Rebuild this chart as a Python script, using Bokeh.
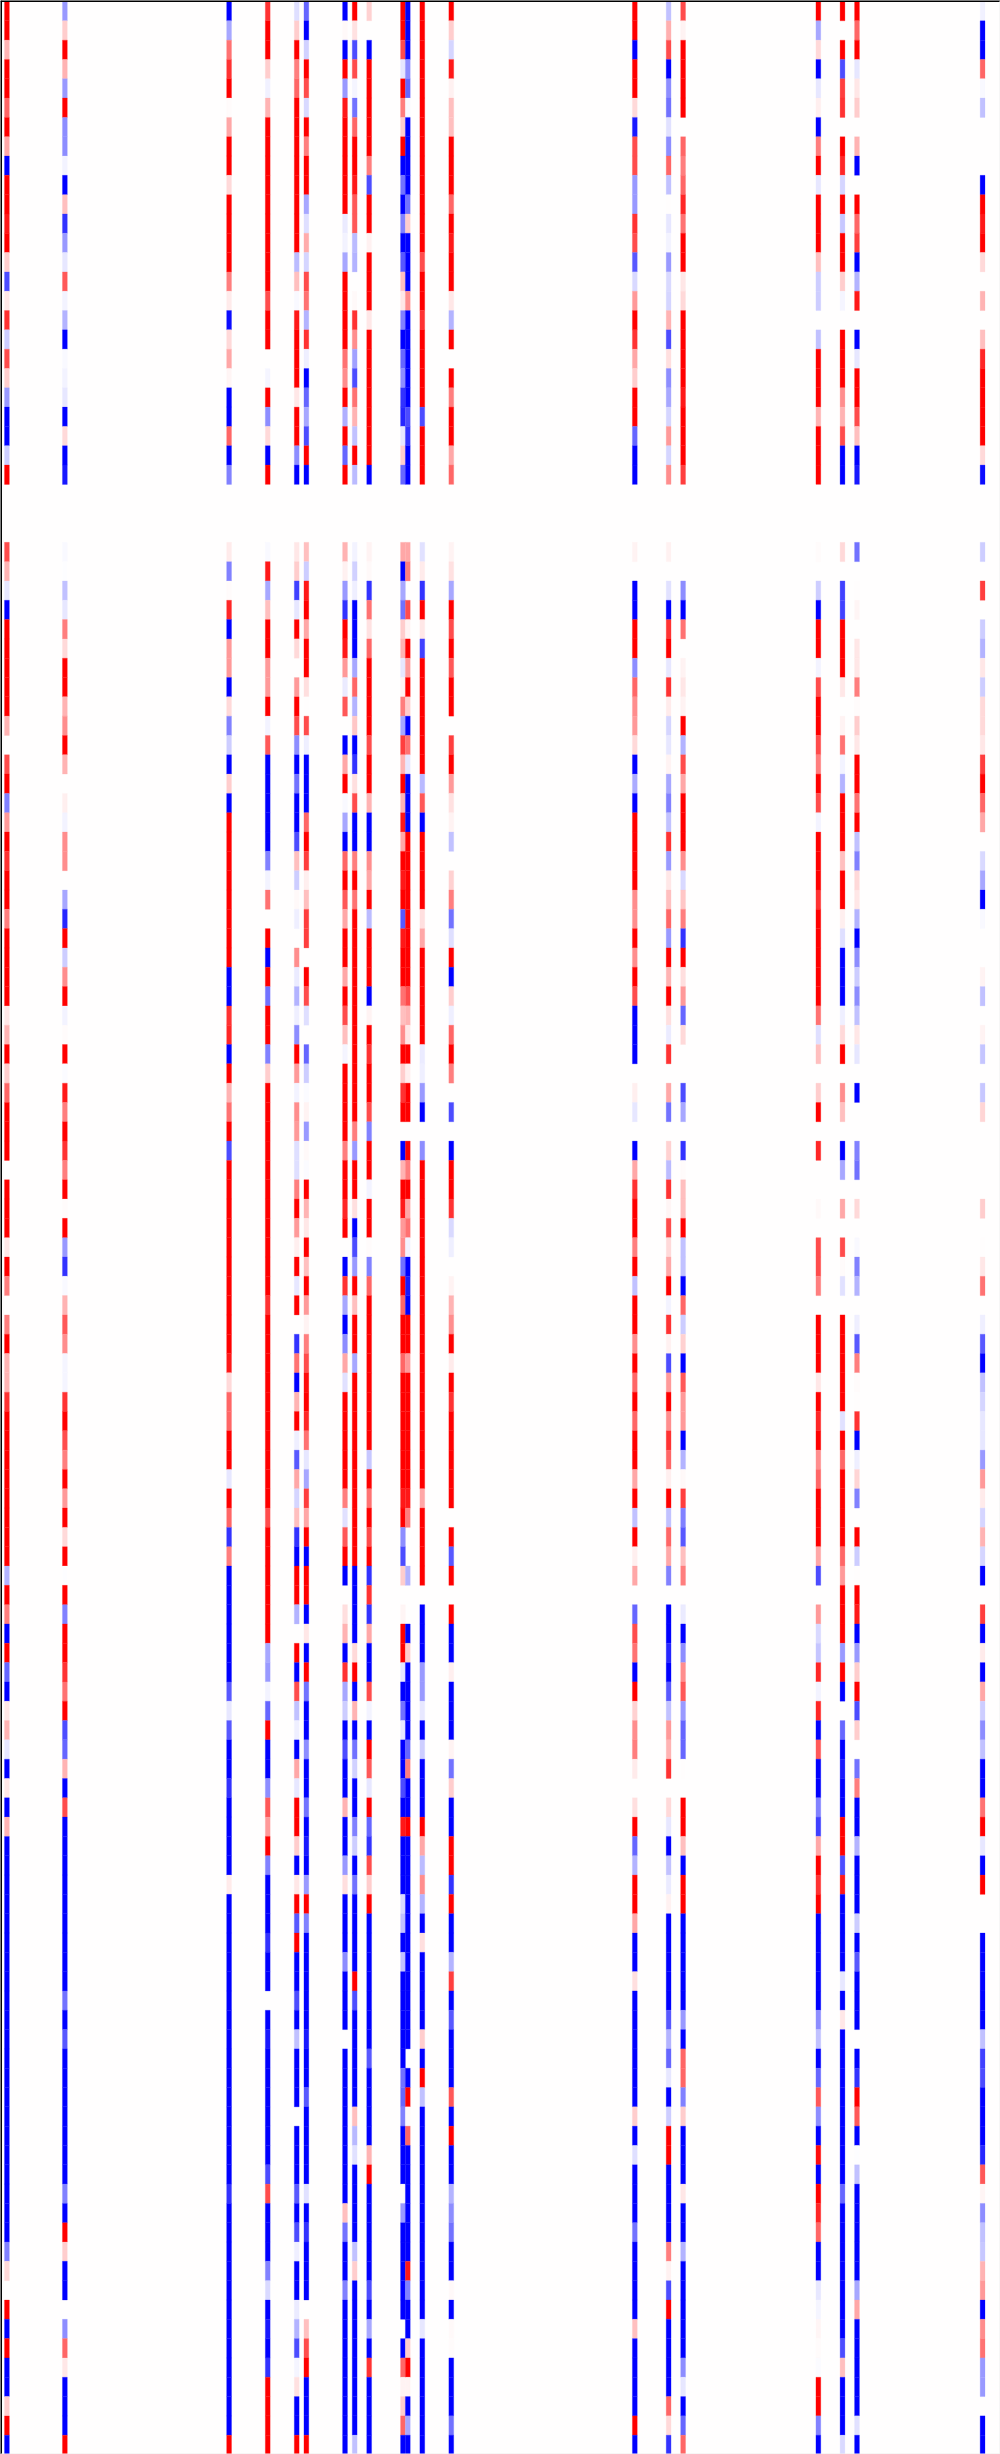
from bokeh.embed import file_html
from bokeh.resources import INLINE
from bokeh.models import ColumnDataSource, LinearColorMapper, Range1d, Span
from bokeh.plotting import figure

# Sample positions (column index on the x axis); values in tenths, + red, - blue
COLUMN_INDEX = [0, 12, 46, 54, 60, 62, 70, 72, 75, 82, 83, 86, 92, 130, 137, 140, 168, 173, 176, 202]

c00 = [10,10,3,10,10,6,10,3.5,-10,10,10,9,10,2,-7,1,
 8,-2,7,2,-4,-10,-10,-2,10, 0,0,0,
 7,3,-1,-10,10,10,10,10,10,3,0,7,10,-5,
 4,10,8,10,10,5,10,10,10,10,1,3,10,2,
 6,10,10,10,0,10,10,10,1,10,5,0,5,10,
 3,3,8,10,10,10,10,10,10,10,10,-3,10,5,
 -10,10,-6,-10,1,3,-1,-10,1,-10,3,-10,-10,-10,
 -10,-10,-10,-10,-10,-10,-10,-10,-10,-10,-10,-10,-10,-10,
 -10,-10,-10,-10,-5,1.5,0,10,-10,10,-10,-10,2,10,-10]
c01 = [-4,2,10,3,-4,10,-4.5,-4.5,-.5,-10,2.5,-8,-4,-1,6.5,-.5,
 -3,-10,-.3,-.5,-1,-10,1.5,-10,-9, 0,0,0,
 -.3,-.1,-2.5,-1,5,1.5,10,10,3,4.5,10,3,0,.7,
 -.5,4.5,4.5,0,-3.5,-8.5,10,-2,4.5,10,-.5,.2,10,-.2,
 9,5,10,8,5,10,.2,10,-4,-8,-.3,3,6.5,4.5,
 -.4,-.4,8,10,7,5,10,4,10,1.5,10,-.1,10,-5,
 10,10,8,5.5,10,-7,-6,3,-10,7,-10,-10,-10,-10,
 -10,-10,-10,-10,-10,-5.5,-10,-6.5,-10,-10,-10,-10,-10,-10,
 -10,-5,-10,10,2,-10,-10,0,-4.5,6,1,-10,-10,-10,10]
c02 = [-10,-3.5,5.5,8,10,.2,3.5,10,10,1.5,10,10,10,10,5,.8,
 -9.5,1.5,3.5,.4,-10,-10,6,-10,-5, 0,0,0,
 .8,-5,.2,8.5,-10,4,4,-10,1.5,-5,-2,-10,2,-10,
 10,10,10,10,10,10,10,10,-10,-10,8,8.5,-10,10,
 3,5.5,10,-7,10,10,10,10,10,10,10,10,10,10,
 9,1.5,6,6,10,10,-1,10,6,-8,5,-10,-10,-10,
 -10,-10,-10,-6.5,-1,-6.5,-10,-10,-8,-10,-10,-10,-10,.8,
 -10,-10,-10,-10,-10,-10,-10,-10,-10,-10,-10,-10,-10,-10,
 -10,-8,-10,-10,-10,-10,-10,-10,-10,-10,-10,-10,-10,-10,10]
c03 = [8,10,10,2,-.6,3,10,10,10,10,10,10,10,10,10,7,
 10,10,0,-.4,10,-4.5,1.5,-10,10, 0,0,0,
 -.3,9,-3.5,2.5,10,10,4,4,10,-.5,6.5,-10,-10,-10,
 -10,-10,-5,-.5,5.5,0,10,-10,10,-5.5,10,10,-5,2,
 10,10,10,10,10,10,10,10,10,10,10,8,10,10,
 10,10,10,10,10,10,10,10,7,10,10,10,10,10,
 10,-3.5,-4,-.5,-6,10,-10,-10,-4.5,6.5,4,10,-5,-10,
 -10,-10,-8,-10,-10,0,-10,-9,-10,-10,-10,-10,-10,-10,
 -7,7,-10,-10,-10,-5,-1.5,-10,-9,-10,-8,10,10,10,10]
c04 = [-1.3,2,10,5,6,10,10,10,10,10,10,10,10,-2.7,2.5,-.3,
 9,10,10,10,1,10,10,-4.5,-10, 0,0,0,
 1,2,-7.5,-1,10,1.5,0,4,10,7,-4.5,-10,-5.5,-10,
 -10,-7,2.5,-2,.3,-.7,0,4.5,-.8,-3,-.7,-4.5,10,4,
 -.5,4.5,4,-1.3,-1.3,5,10,4,.7,10,-1,10,0,-8,
 5.5,-10,3,10,-.7,-6.5,3.5,-1.7,2.5,-8,-10,10,10,-3,
 0,10,-10,7,-2.5,-.7,-10,3.5,-1,10,10,2,-10,1,
 10,-6.5,10,-10,-10,-7,-10,-2.5,-10,-10,-10,0,-10,-10,
 -10,-6.5,-10,-7,-.7,-10,-10,-.8,-3,-7,-.4,1.2,-10,-10,10]
c05 = [-6,-10,-1.8,10,7,-1.5,10,5,10,10,-3.5,-1.3,3.3,-1.7,7,5.5,
 -3,8,-.7,-10,-6,-3.5,-7,10,-10, 0,0,0,
 2.5,-2,9,10,3.5,10,10,1.3,.1,7,-.7,-10,-10,-10,
 6,10,7.5,.7,2.5,7.5,7.5,0,10,7,-1.3,0,-6,-2,
 -.2,.5,-4,.3,-.2,10,3,1,10,2.5,10,4,.5,5,
 7,9.5,10,8.5,5.5,-1,-3.5,7.5,3.5,10,-10,10,10,-10,
 1,-10,10,-5.5,-10,-10,-4.5,-10,-10,-5.5,-10,-9,-10,-4,
 10,-5,-10,-10,-10,-10,-10,-9,-10,-10,-6.5,-10,-10,-10,
 -10,-1.2,-10,-8,-10,-10,-10,0,2.5,7,10,-10,-10,-10,10]
c06 = [-10,.3,-10,10,-4,9,10,10,10,10,10,-.8,-.5,-3.5,10,10,
 10,10,5.5,4.5,10,-3.2,10,-6,10, 0,0,0,
 3,.6,-4,-8,10,9,4,-.8,6.5,0,-10,3.5,10,-.3,
 -3.5,-10,6,10,6.5,3.5,10,10,3.5,10,7,2.5,-.4,10,
 10,10,10,5,10,10,8.5,10,0,-10,8,-3.5,-10,-4.5,
 3.5,-1.2,10,10,10,10,10,5,-1.2,6.5,10,-10,0,1.3,
 3,-10,8,-3.5,-2,-10,-7,-10,-10,3,-10,-10,-4,1.3,
 -10,-10,-10,-4.5,-10,-10,-10,0,-10,-10,-10,-10,-10,-10,
 -10,-10,2.5,-5.5,-10,-10,-5,-10,-10,-10,-10,-10,-10,-10,-10]
c07 = [10,1.2,-7,7,-.4,-5.5,6,10,10,9,6.5,6.5,-2.7,-3,0,.3,
 8,4.5,-3.7,-7,5.5,3,-2.5,10,-2.7, 0,0,0,
 -.5,-1.8,-.7,-10,-10,-10,-3.5,6,-3,2.2,-10,-8,1.3,7,
 -10,-10,5,10,5.5,10,10,10,10,10,10,10,10,10,
 10,10,5,-4,10,10,1.3,-10,-7,-4,10,2.5,10,10,
 -3.5,10,10,10,10,10,10,10,10,10,10,-10,-10,-10,
 -10,1.5,10,-10,3,-10,-5.5,-1.8,-10,-10,-5,-2,-10,-5.5,
 -10,-10,-10,-10,10,-7,-10,-10,-10,-10,-10,2.5,-2.8,-1.2,
 -10,-10,-10,-10,-2.5,2,-10,-10,-10,-10,-10,-10,-10,-10,-2.5]
c08 = [1.8,0,-10,10,10,10,10,10,5,-7,10,10,.6,10,10,10,
 1,10,10,10,10,10,10,10,-10, 0,0,0,
 .5,.3,-8,5.5,1.2,6,10,10,10,10,7,10,10,3,
 -10,-10,4.5,3.5,10,-2.7,10,10,10,-10,.5,10,8,10,
 10,7,-5,10,10,-.5,10,10,.2,-5,6,10,10,10,
 10,10,10,10,10,-2.2,10,5.5,10,7,10,-8,8,-8,
 3.5,-10,-10,7,-.5,-10,10,6.5,-1,10,-6,-8,7,2,
 10,-10,-10,-10,-10,-10,-10,-10,-6.5,-10,-10,-10,-10,3,
 10,-10,-10,-10,-10,-10,-7,-10,-3.5,-10,8,-10,-10,-10,-10]
c09 = [10,10,7,-1,10,5,2,10,-10,-5.5,-10,-5,-10,-6.5,2.5,1,
 -5,-10,-6,-4.5,-8,-8.5,-1,2,-6, 0,0,0,
 3.5,-10,-3.5,-5.5,2,3,-1,.5,5,-3.5,7.5,3,10,3,
 9,3.5,10,9,10,-6.5,9,10,10,5.5,2.5,4.5,10,2,
 8,10,0,-10,3,10,9,4,4.5,-5.5,10,6,10,10,
 6,10,10,10,10,10,10,9,10,-4.5,-7,2,0,.4,
 10,10,-1,-10,-5.5,-1,-10,-10,-7,-10,9,-10,-10,-10,
 -1.5,-2.5,-10,-2.5,-10,-10,-10,-10,-10,-5.5,-6,-5,-10,-10,
 -10,.2,-4,-10,-10,-10,-10,-10,0,-10,6,.5,2,6,-10]
c10 = [-10,-10,-10,-4.5,-6,-.3,-10,-10,-10,-10,-5.5,2,-10,-10,-10,4.5,
 -10,-10,-10,-10,-10,-7,-8,-10,-10, 0,0,0,
 3.5,5,0,7,.5,10,4,10,2,-10,5.5,-1,-10,-10,
 -10,10,10,10,10,10,10,10,10,7,3,1,10,.7,
 10,10,0,10,5,10,3.5,5.5,-.5,-10,-9,-10,10,10,
 4,10,10,10,10,10,10,9,5,0,0,-3,0,0,
 -10,2,-10,-10,-10,-10,-6,5,-10,-10,10,-10,-10,-10,
 -10,-10,-10,-10,-10,-10,-10,-10,0,-10,10,.3,6,-10,
 -10,-10,-10,-10,-10,9,-5,-10,-10,2,10,.5,-10,-3.5,-10]
c11 = [10,10,10,10,10,10,10,10,10,10,10,10,10,7,10,10,
 8,10,10,10,10,-7,10,10,10, 0,0,0,
 -1.2,.8,-8,10,1,-7.5,10,10,10,10,10,10,-2.8,6.5,
 -10,10,10,10,10,1.3,3.5,10,10,10,10,10,-.8,-.7,
 -4,-10,0,-4.5,10,10,10,10,10,10,10,10,10,10,
 10,10,10,10,10,10,10,3.5,10,10,10,10,0,-10,
 -10,-10,-4,-4,-1,-10,-2,-10,-10,-10,10,3.5,-2.7,4.5,
 -3,-10,1.3,-10,-10,-10,-10,2,-10,10,-2.5,-10,-10,-10,
 -10,-10,-10,-10,-10,-10,-10,-10,-1,-10,-10,-10,-10,-10,-10]
c12 = [10,2,-1.7,9,.6,2.5,2.5,10,10,10,6,10,9,10,10,1,
 -3,10,0,10,5,10,10,3.5,6, 0,0,0,
 .5,1.2,-3.5,10,7,10,6.5,10,10,0,7.5,10,4,1.2,
 .5,-2.5,0,1.8,5,-5.5,-1.3,10,-10,2,-.7,6,10,5,
 0,-7,0,-10,10,10,8,-1.5,-.7,0,.5,3,4.5,10,
 .8,10,8,10,10,10,10,10,0,10,-6.5,10,0,10,
 -10,-10,.7,-10,-10,-10,.5,-5.5,2,-10,-10,10,10,-8,
 10,-10,-10,-3,7.5,-10,-6.5,-10,-10,-10,6.5,-10,10,-10,
 -10,-3,-4.5,-5.5,-10,-10,.3,-10,.3,.2,-10,-10,-10,-5.5,-10]
c13 = [10,10,-10,10,10,1.5,-9,7,7,-4,-4,8,7,-6.5,-1.5,4,
 10,8,3.5,2,10,10,-6,-10,-10, 0,0,0,
 .5,0,-10,-10,10,10,-4.5,6,4.5,4,1.5,-10,-3.3,-10,
 10,10,10,10,4.5,4.5,10,4.5,10,7,-10,-10,-10,0,
 .7,-1,0,-10,3.5,8,10,10,5,10,-2.5,10,10,4.5,
 10,6,10,6,10,10,3.5,10,-2.5,10,.7,3.5,0,-6,
 7,5.5,-10,10,1.8,4.5,5,.8,0,1.3,10,-6,-3,10,
 10,3.5,-10,-10,1.3,-10,-10,-10,-10,-10,-10,2,-10,-1.3,
 -10,-10,-10,-5.5,-10,-10,-10,-10,2.5,-10,-10,-10,-10,10,-10]
c14 = [-2.5,3.2,7,-10,-4.5,-5.5,-1.2,-4.5,6,-2.5,.1,-1,-.5,-4,-1.5,-1.7,
 3,-7,1.3,-4.5,-3.5,-1.7,4,-1.7,4.5, 0,0,0,
 .6,0,-1.2,-10,8,10,-1,8,.8,-1.7,-1,.5,-3.5,-5,
 -2.5,8,-4,1,2.5,6,-4,10,3,10,1.3,-.8,8,0,
 3.5,-5.5,0,1.8,-2.7,8,.4,7,1.5,3.5,10,-.5,8,.6,
 -7,4,10,4.5,8,6,.7,10,-2.5,6,3.5,-5,0,-10,
 -10,-8.5,-10,-6.5,-2.5,4,3,8,0,1.5,-1,-10,-2.5,-.8,
 .6,-10,-10,-10,-10,-10,-6.5,-3,-6,-1,-10,-2,10,10,
 -10,-10,-10,-10,5,.6,-7,10,-10,-10,-10,-10,6,1.5,-8]
c15 = [7,.5,10,10,10,10,0,6,5,6,8.5,5.5,10,10,1,1.5,
 10,10,10,10,9,10,10,10,7.5, 0,0,0,
 0,0,-4.5,-10,5.5,0,.5,1,.5,10,-3,7,3.5,10,
 10,10,4.5,-1.5,2.2,5,-8,10,1.3,4,-6,1.5,0,0,
 -7,-3.5,0,-8,.2,2.5,2.5,10,-2.5,-2.5,-10,6,-2,1.8,
 -10,6.5,4,4,-10,-3,.3,7.5,-5,-6.5,2.5,5,0,-.8,
 -10,-4.5,4.5,6.5,-4,-6,-6,.1,0,10,10,2.5,-10,10,
 10,-10,-10,-10,-10,-10,-4,-10,6,6,-5,2,-10,-10,
 -10,1,-10,-10,-3,-10,-10,-10,-10,-10,-4.5,-1,-10,-6,6]
c16 = [10,-3.5,1.5,-10,-1,.7,-10,5,10,-1,10,10,10,2.5,-2,-2,
 0,-2.5,10,10,10,3,10,10,10, 0,0,0,
 .2,0,-2,-10,10,10,-.5,7,10,10,7,5,10,7,
 -.5,10,10,10,8,10,10,10,10,10,5.5,-1.3,2.5,0,
 2,10,0,8.5,0,0,.3,0,7,7,5,0,10,10,
 10,1,10,8.5,10,4.5,6,10,10,10,3.5,-7,0,4,
 -1.5,-2.3,8.5,-.5,8.5,-10,6.5,-10,-10,-5,-7.5,3.5,10,8,
 10,-10,-10,-10,-10,-10,-4.5,-2.5,-10,-6,6.5,-4.5,-10,9.5,
 -10,10,8.5,6,-10,-10,-1,-.4,.4,.2,-.2,10,10,-5,-10]
c17 = [10,0,10,-7,7.5,8,0,10,8.5,-1.7,10,-2.2,10,10,2,-.4,
 0,10,10,10,4.5,3,7,-10,-10, 0,0,0,
 1.5,0,-7.5,-7.5,10,10,10,1,0,.5,5.5,-.5,-3,10,
 10,10,2.5,10,10,.7,-1.3,-10,-10,-10,-.7,1.5,10,0,
 4.5,2.5,0,-10,-3.5,0,3.5,0,7,.2,-1.2,0,10,10,
 10,10,10,-1.2,10,6,10,10,10,10,6,4,10,10,
 10,-4,10,-10,0,-6,-10,-9,-10,-10,10,10,-7,9,
 -10,-10,-10,-10,-1,-10,1,-10,-10,-10,-10,-10,-10,-10,
 -10,-6,-10,-10,-10,-10,-10,-10,-10,-7,2.5,-10,-10,-10,-1.5]
c18 = [10,6,10,-1,1,2,0,3,-10,0,10,6,7.5,-10,-3,9,
 0,-10,-1,10,10,7,2.5,-10,-9, 0,0,0,
 -5.5,0,.1,.4,0,1,1,5,.2,2,1,10,10,5.5,
 10,-2.5,-5,1.5,1,-3,-10,-4.5,-2,-4.5,-2.5,1,-1,0,
 -10,0,0,-5,-5.5,0,1.5,0,-.3,-5,-3,0,-.7,-6.5,
 5,.2,.1,8,-10,-.7,1.7,-5,0,10,-2,.1,10,9,
 -10,-4,2,10,-7,2,0,-5.5,5,-10,-10,-3,-10,-10,
 -10,-2,-10,-6.5,-10,-10,-10,0,-10,-8,10,6.5,-10,-.1,
 -2.5,-10,-10,-10,-10,-10,-3.5,3.5,-10,-10,-10,-10,-10,-1.2,-10]
c19 = [-.6,-10,-10,6,-.3,-2.5,0,0,0,-10,10,9,10,1.5,0,3,
 0,2.5,8.5,10,10,10,10,1.5,-9.5, 0,0,0,
 -2,0,7.5,0,-2,-3,1,-2,1.5,1.5,1,7.5,10,6,
 3.5,0,-1.5,-3.5,-10,-.3,0,0,.5,-2.5,0,.5,-2.3,0,
 -2.2,1.7,0,0,0,0,2,0,.1,1,5.5,0,-.7,-6.5,
 -10,-2.5,-1.7,-1,-1,-4,4,.8,-1.7,3,-1.7,-10,0,7.5,
 -10,.8,-10,3.5,-2,-4.5,-2.5,-10,-10,5.5,10,-1,-10,10,
 0,0,-10,-10,-10,-10,-10,-2.5,-7.5,-7,-10,-10,-10,-8.5,
 6.5,.4,-4.5,-2.5,-2.2,3,4,-10,4.5,5.5,-4,-4,0,-10,-10]

SERIES = [c00, c01, c02, c03, c04, c05, c06, c07, c08, c09,
          c10, c11, c12, c13, c14, c15, c16, c17, c18, c19]
N_ROWS = 127
for i, s in enumerate(SERIES):
    assert len(s) == N_ROWS, (i, len(s))

# blue-white-red palette
BWR = []
for i in range(128):
    g = round(255 * i / 127)
    BWR.append("#%02x%02xff" % (g, g))
for i in range(127, -1, -1):
    g = round(255 * i / 127)
    BWR.append("#ff%02x%02x" % (g, g))
mapper = LinearColorMapper(palette=BWR, low=-10, high=10)

left, right, top, bottom, val = [], [], [], [], []
for k, s in zip(COLUMN_INDEX, SERIES):
    for r, v in enumerate(s):
        if v != 0:
            left.append(k); right.append(k + 1)
            top.append(r); bottom.append(r + 1)
            val.append(v)
src = ColumnDataSource(dict(left=left, right=right, top=top, bottom=bottom, val=val))

CELL_W = 4.83
CELL_H = 19.315
x_range = Range1d(-4 / CELL_W, (1000 - 4) / CELL_W)
y_range = Range1d((2454 - 1) / CELL_H, -1 / CELL_H)

p = figure(width=1000, height=2454, output_backend="svg", toolbar_location=None,
           x_range=x_range, y_range=y_range, x_axis_location=None, y_axis_location=None,
           min_border=0, background_fill_color="#fffefe", border_fill_color="#fffefe",
           outline_line_color=None, styles={"position": "absolute", "left": "0", "top": "0"})
p.grid.visible = False
color = {"field": "val", "transform": mapper}
p.quad(left="left", right="right", top="top", bottom="bottom", source=src,
       fill_color=color, line_color=color, line_width=0.25)

p.add_layout(Span(location=x_range.start, dimension="height", line_color="black", line_width=3))
p.add_layout(Span(location=y_range.end, dimension="width", line_color="black", line_width=3))
p.add_layout(Span(location=x_range.end, dimension="height", line_color="#eeeeee", line_width=2))
p.add_layout(Span(location=y_range.start, dimension="width", line_color="#eeeeee", line_width=2))

open("out.html", "w").write(file_html(p, INLINE))
